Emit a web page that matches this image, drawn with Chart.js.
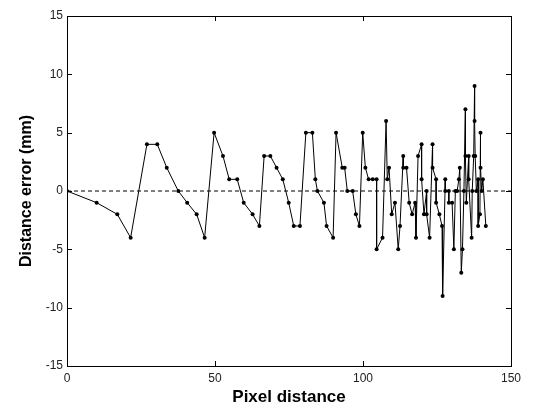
<!DOCTYPE html>
<html>
<head>
<meta charset="utf-8">
<script src="https://cdn.jsdelivr.net/npm/chart.js@4.4.0/dist/chart.umd.min.js"></script>
<style>
  html, body { margin: 0; padding: 0; background: #fff; }
  #wrap { width: 533px; height: 406px; position: relative; }
</style>
</head>
<body>
<div id="wrap"><canvas id="c" width="533" height="406"></canvas></div>
<script>
// Pixel distance (x) and distance error in mm (y), in drawing order
const pixelDistance = [
  0, 10, 17, 21.5, 27, 30.5, 33.7, 37.6, 40.6, 43.8, 46.5,
  49.7, 52.7, 54.8, 57.5, 59.7, 62.7, 65, 66.6, 68.7, 70.8, 72.9, 74.9, 76.6, 78.7,
  80.7, 82.9, 83.9, 84.6, 86.8, 87.7, 89.9, 90.9, 93, 93.8, 94.7, 96.5, 97.6, 98.8,
  99.9, 100.8, 101.9, 103.3, 104.6, 104.6, 106.6, 107.8, 108.2, 108.8, 109.7, 110.8,
  111.9, 112.5, 113.6, 113.6, 114.7, 115.6, 116.6, 117.6, 117.9, 118.6, 119.8, 119.8,
  120.6, 121.5, 121.5, 122.5, 123.5, 123.5, 124.7, 124.7, 125.8, 126.7, 126.9, 127.8,
  127.8, 129, 129, 130.1, 130.7, 131.2, 131.8, 132.4, 132.7, 133.2, 133.6, 134.1,
  134.6, 134.6, 134.9, 135.7, 135.7, 136.7, 136.9, 137.4, 137.7, 137.7, 137.9, 138.3,
  138.9, 138.9, 139.5, 139.7, 139.7, 140.1, 140.5, 141.5
];
const distanceError = [
  0, -1, -2, -4, 4, 4, 2, 0, -1, -2, -4,
  5, 3, 1, 1, -1, -2, -3, 3, 3, 2, 1, -1, -3, -3,
  5, 5, 1, 0, -1, -3, -4, 5, 2, 2, 0, 0, -2, -3,
  5, 2, 1, 1, 1, -5, -4, 6, 1, 2, -2, -1,
  -5, -3, 3, 2, 2, -1, -2, -1, -4, 3, 4, 1,
  -2, 0, -2, -4, 4, 2, 1, -1, -2, -3, -9, 1,
  0, 0, -1, -1, -5, 0, 0, 1, 2, -7, -5, 0,
  7, 3, -1, 3, 1, -4, 0, 3, 9, 6, 3, 0,
  1, -3, -2, 5, 2, 0, 1, -3
];
const xTicks = [0, 50, 100, 150];
const yTicks = [-15, -10, -5, 0, 5, 10, 15];
const zeroLineX = [0, 150];

const points = pixelDistance.map((x, i) => ({ x: x, y: distanceError[i] }));
const zeroLine = zeroLineX.map(x => ({ x: x, y: 0 }));

const frameTicks = {
  id: 'frameTicks',
  afterDatasetsDraw(chart) {
    const { ctx, chartArea: a, scales: { x, y } } = chart;
    ctx.save();
    ctx.strokeStyle = '#000';
    ctx.lineWidth = 1;
    ctx.beginPath();
    const L = 5;
    xTicks.forEach(v => {
      const px = Math.round(x.getPixelForValue(v)) + 0.5;
      ctx.moveTo(px, a.bottom); ctx.lineTo(px, a.bottom - L);
      ctx.moveTo(px, a.top); ctx.lineTo(px, a.top + L);
    });
    yTicks.forEach(v => {
      const py = Math.round(y.getPixelForValue(v)) + 0.5;
      ctx.moveTo(a.left, py); ctx.lineTo(a.left + L, py);
      ctx.moveTo(a.right, py); ctx.lineTo(a.right - L, py);
    });
    ctx.stroke();
    ctx.strokeRect(Math.round(a.left) + 0.5, Math.round(a.top) + 0.5,
                   Math.round(a.right - a.left), Math.round(a.bottom - a.top));
    ctx.restore();
  }
};

new Chart(document.getElementById('c'), {
  type: 'scatter',
  data: {
    datasets: [
      {
        data: zeroLine,
        showLine: true,
        borderColor: '#000',
        borderWidth: 1,
        borderDash: [4, 3],
        pointRadius: 0,
        order: 2
      },
      {
        data: points,
        showLine: true,
        borderColor: '#000',
        borderWidth: 1,
        pointRadius: 2,
        pointBackgroundColor: '#000',
        pointBorderColor: '#000',
        pointBorderWidth: 0,
        order: 1
      }
    ]
  },
  options: {
    responsive: false,
    animation: false,
    events: [],
    layout: { padding: { left: 0, right: 22, top: 16, bottom: 0 } },
    plugins: { legend: { display: false }, tooltip: { enabled: false } },
    scales: {
      x: {
        type: 'linear',
        min: 0, max: 150,
        afterBuildTicks(s) { s.ticks = xTicks.map(v => ({ value: v })); },
        afterFit(s) { s.height = 40; },
        grid: { display: false, drawTicks: false },
        border: { display: false },
        ticks: { color: '#222', font: { family: 'Liberation Sans, Arial', size: 12 }, padding: 5, maxRotation: 0 },
        title: {
          display: true, text: 'Pixel distance', color: '#000',
          font: { family: 'Liberation Sans, Arial', size: 17, weight: 'bold', lineHeight: 1 },
          padding: { top: 0, bottom: 0 }
        }
      },
      y: {
        type: 'linear',
        min: -15, max: 15,
        afterBuildTicks(s) { s.ticks = yTicks.map(v => ({ value: v })); },
        afterFit(s) { s.width = 67; },
        grid: { display: false, drawTicks: false },
        border: { display: false },
        ticks: { color: '#222', font: { family: 'Liberation Sans, Arial', size: 12 }, padding: 4 },
        title: {
          display: true, text: 'Distance error (mm)', color: '#000',
          font: { family: 'Liberation Sans, Arial', size: 16, weight: 'bold', lineHeight: 1 },
          padding: { top: 19, bottom: 0 }
        }
      }
    }
  },
  plugins: [frameTicks]
});
</script>
</body>
</html>
